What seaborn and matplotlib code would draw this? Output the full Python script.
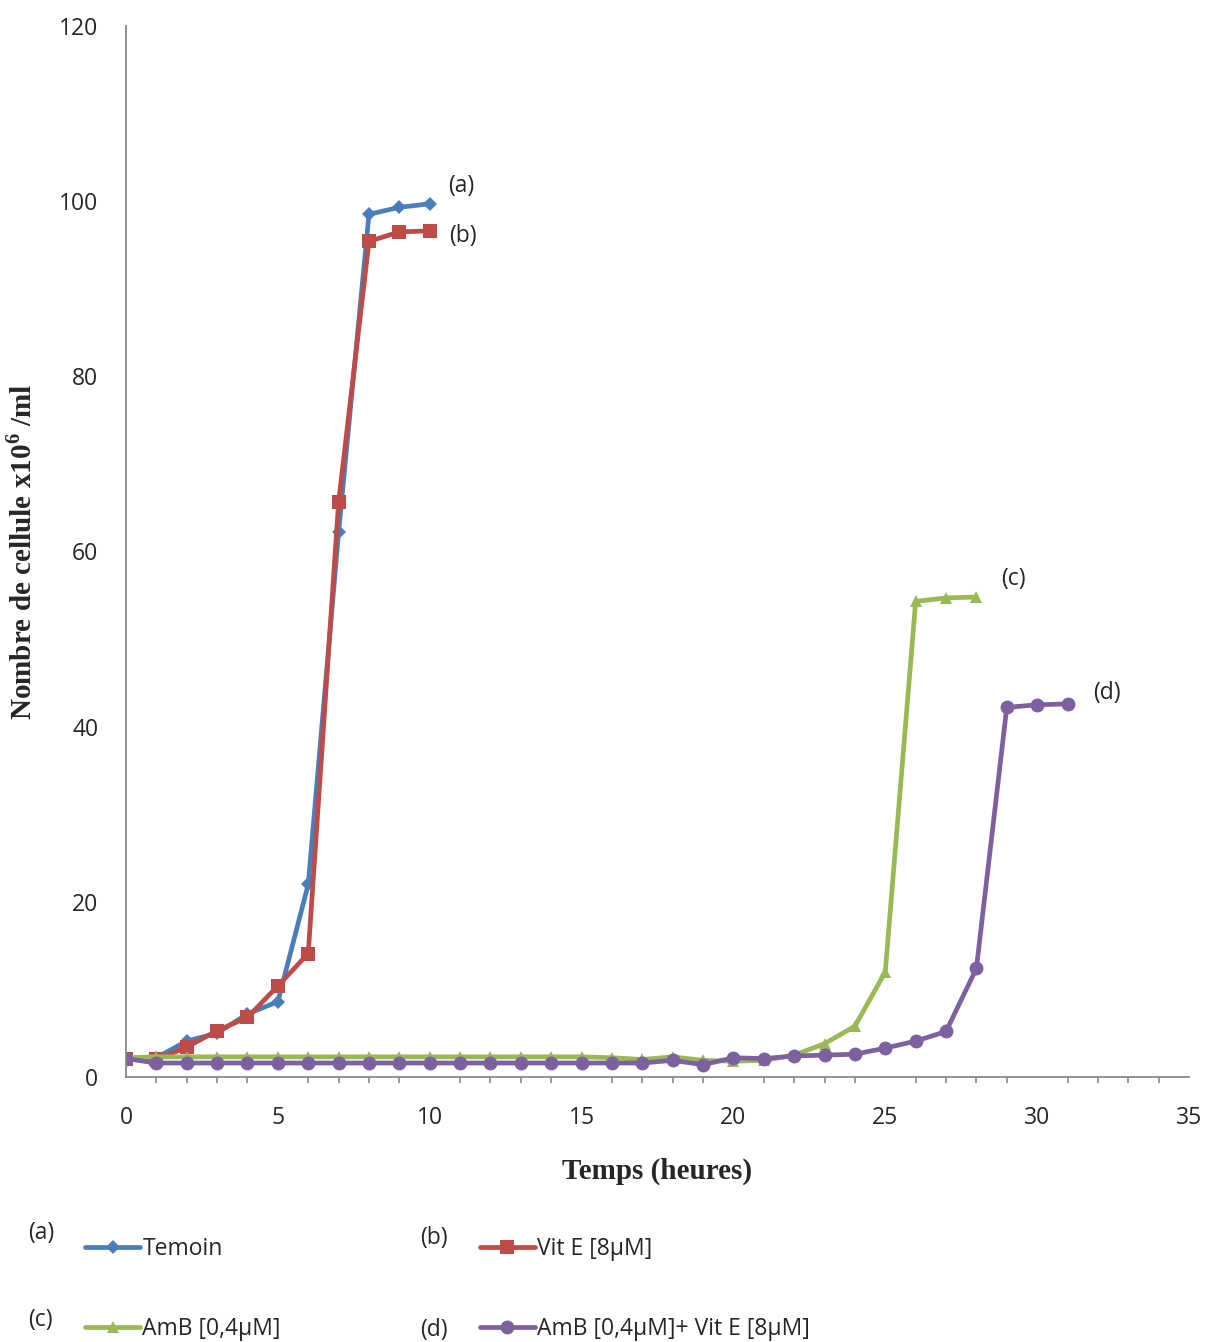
import matplotlib.pyplot as plt
import numpy as np
import pandas as pd
import seaborn as sns
from matplotlib.ticker import MultipleLocator

temps_ab = list(range(0, 11))
temoin = [2.0, 2.2, 4.1, 5.0, 7.2, 8.6, 22.0, 62.2, 98.5, 99.3, 99.7]
vit_e = [2.0, 2.0, 3.4, 5.3, 6.8, 10.4, 14.1, 65.6, 95.4, 96.5, 96.6]

temps_c = list(range(0, 29))
amb = [2.2, 2.3, 2.3, 2.3, 2.3, 2.3, 2.3, 2.3, 2.3, 2.3, 2.3, 2.3, 2.3, 2.3,
       2.3, 2.3, 2.2, 2.0, 2.3, 1.9, 1.8, 1.9, 2.5, 3.8, 5.8, 12.0, 54.3,
       54.7, 54.8]

temps_d = list(range(0, 32))
amb_vit = [2.1, 1.6, 1.6, 1.6, 1.6, 1.6, 1.6, 1.6, 1.6, 1.6, 1.6, 1.6, 1.6,
           1.6, 1.6, 1.6, 1.6, 1.6, 1.9, 1.4, 2.2, 2.1, 2.4, 2.5, 2.6, 3.3,
           4.1, 5.2, 12.4, 42.2, 42.5, 42.6]

labels = ["Temoin", "Vit E [8µM]", "AmB [0,4µM]", "AmB [0,4µM]+ Vit E [8µM]"]
letters = ["(a)", "(b)", "(c)", "(d)"]
colors = ["#4a7ebb", "#be4b48", "#98b954", "#7d60a0"]
markers = ["D", "s", "^", "o"]
msizes = [7, 10, 9, 10]

series = [(temps_ab, temoin), (temps_ab, vit_e), (temps_c, amb), (temps_d, amb_vit)]

sns.set_style("white")
plt.rcParams['font.family'] = ['Open Sans', 'DejaVu Sans']
plt.rcParams['mathtext.fontset'] = 'custom'
plt.rcParams['mathtext.rm'] = 'Liberation Serif:bold'
plt.rcParams['mathtext.bf'] = 'Liberation Serif:bold'

fig = plt.figure(figsize=(12.07, 13.42), dpi=100)
ax = fig.add_axes([126 / 1207, 1 - 1077 / 1342, (1189 - 126) / 1207, (1077 - 26) / 1342])

for (x, y), lab, col, mk, ms in zip(series, labels, colors, markers, msizes):
    df = pd.DataFrame({"t": x, "n": y})
    sns.lineplot(data=df, x="t", y="n", ax=ax, color=col, marker=mk,
                 markersize=ms, markeredgewidth=0, linewidth=3.4, label=lab)

# curve tags
fs = 16.5
ax.text(10.6, 101, "(a)", fontsize=fs)
ax.text(10.65, 95.3, "(b)", fontsize=fs)
ax.text(28.8, 56.2, "(c)", fontsize=fs)
ax.text(31.85, 43.2, "(d)", fontsize=fs)

ax.set_xlim(0, 35)
ax.set_ylim(0, 120)
ax.xaxis.set_major_locator(MultipleLocator(5))
ax.xaxis.set_minor_locator(MultipleLocator(1))
ax.yaxis.set_major_locator(MultipleLocator(20))
ax.tick_params(axis='x', which='major', direction='out', length=7, width=1.2,
               color='#888888', labelsize=fs, pad=14)
ax.tick_params(axis='x', which='minor', direction='out', length=4, width=1.2,
               color='#888888', bottom=True)
ax.tick_params(axis='y', which='major', length=0, labelsize=fs, pad=20)
for s in ["top", "right"]:
    ax.spines[s].set_visible(False)
for s in ["left", "bottom"]:
    ax.spines[s].set_color('#888888')
    ax.spines[s].set_linewidth(1.3)

ax.set_xlabel("Temps (heures)", family="Liberation Serif", fontweight="bold",
              fontsize=21, labelpad=20)
ax.set_ylabel("Nombre de cellule x10$^{\\mathbf{6}}$ /ml", family="Liberation Serif",
              fontweight="bold", fontsize=21)
ax.yaxis.set_label_coords(-0.083, 0.5)
ax.get_legend().remove()

h, l = ax.get_legend_handles_labels()
leg_pos = [(0.063, 0.069), (0.390, 0.069), (0.063, 0.010), (0.390, 0.010)]
tag_pos = [(28, 1233), (420, 1238), (28, 1320), (420, 1330)]
for hi, li, (lx, ly), (tx, ty), let in zip(h, l, leg_pos, tag_pos, letters):
    fig.legend([hi], [li], loc="center left", bbox_to_anchor=(lx, ly),
               frameon=False, fontsize=fs, handlelength=2.4, handletextpad=0.1,
               borderaxespad=0)
    fig.text(tx / 1207, 1 - ty / 1342, let, fontsize=fs, va="center")

fig.savefig("out.png", dpi=100)
